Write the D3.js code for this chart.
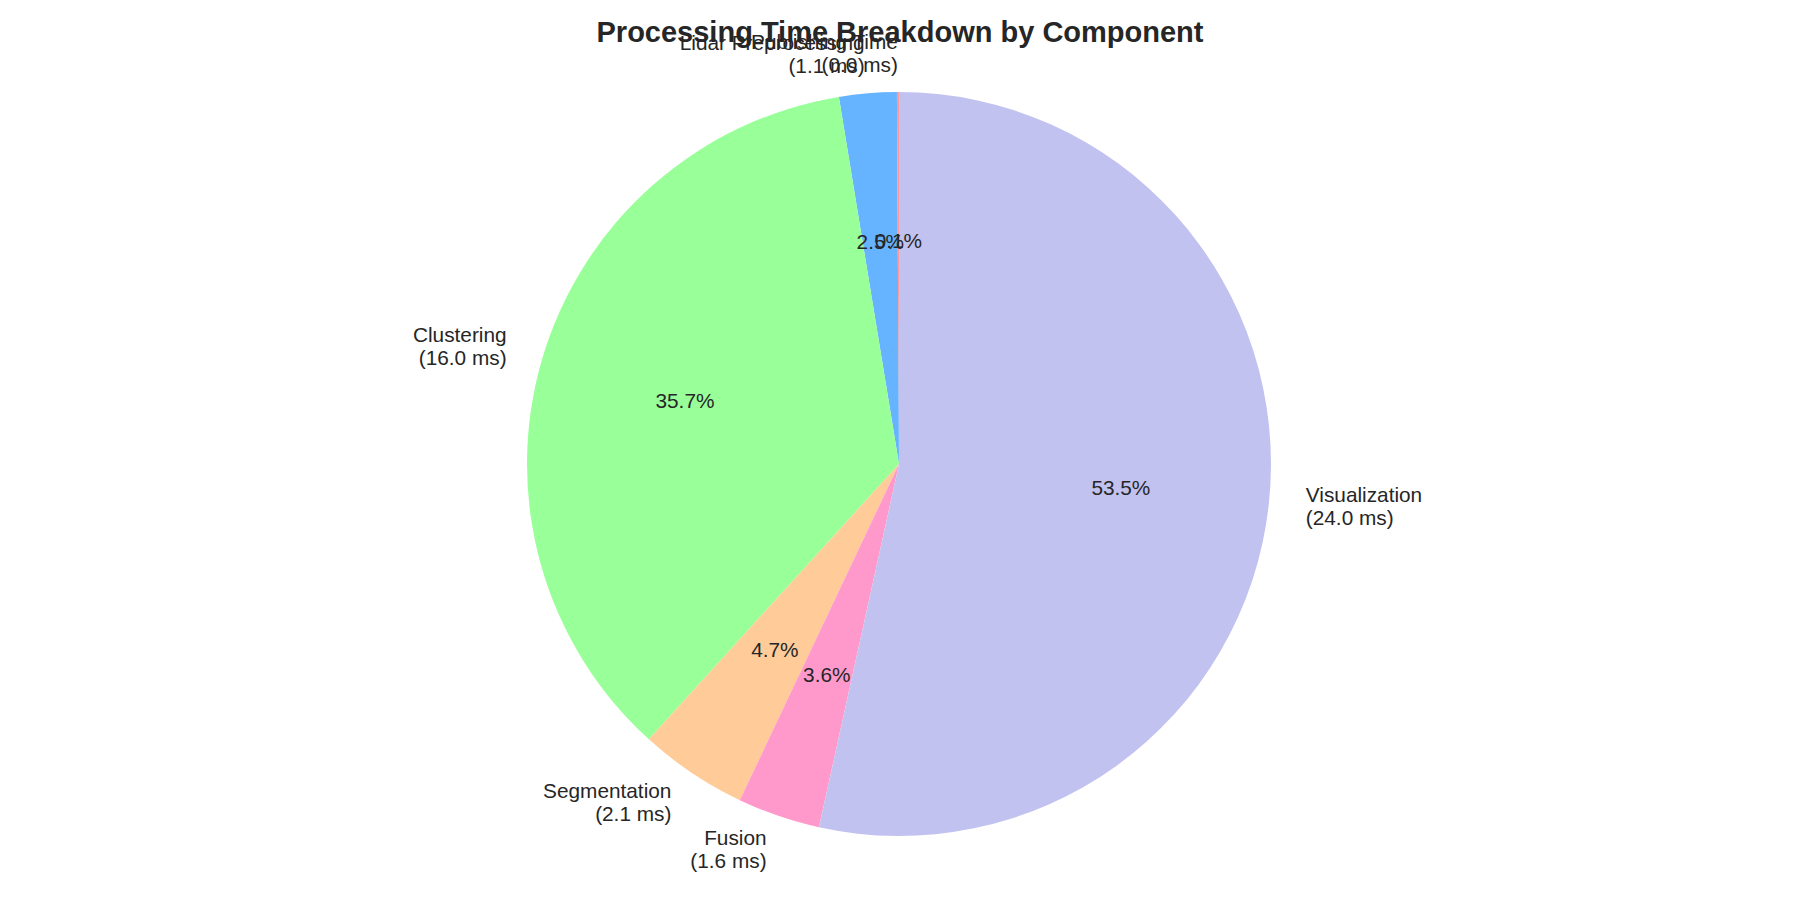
<!DOCTYPE html>
<html>
<head>
<meta charset="utf-8">
<script src="https://cdn.jsdelivr.net/npm/d3@7"></script>
<style>
  body { margin: 0; background: #fff; }
  svg text { font-family: "Liberation Sans", Arial, sans-serif; fill: #262626; }
</style>
</head>
<body>
<svg id="chart"></svg>
<script>
// Components, in the order they are drawn (counterclockwise from 12 o'clock)
var components = ["Publishing Time", "Lidar Preprocessing", "Clustering", "Segmentation", "Fusion", "Visualization"];
// Processing time per component, ms
var times = [0.04, 1.12, 16.02, 2.11, 1.61, 24.0];
var colors = ["#ff9999", "#66b3ff", "#99ff99", "#ffcc99", "#ff99cc", "#c2c2f0"];

var width = 1800,
    height = 900,
    cx = 899,
    cy = 464,
    radius = 372;

var data = components.map(function (c, i) { return { label: c, value: times[i] }; });
var total = d3.sum(times);

var svg = d3.select("#chart")
  .attr("width", width)
  .attr("height", height);

// Title
svg.append("text")
  .attr("x", width / 2)
  .attr("y", 42)
  .style("text-anchor", "middle")
  .style("font-size", "29px")
  .style("font-weight", "bold")
  .text("Processing Time Breakdown by Component");

// counterclockwise pie, like startangle=90 in matplotlib
var pie = d3.pie()
  .value(function (d) { return d.value; })
  .sort(null)
  .startAngle(0)
  .endAngle(-2 * Math.PI);

var arc = d3.arc()
  .innerRadius(0)
  .outerRadius(radius);

var arcs = pie(data);

var g = svg.append("g")
  .attr("transform", "translate(" + cx + "," + cy + ")");

// wedges first, so no wedge covers a label
g.selectAll(".arc")
  .data(arcs)
  .enter().append("path")
  .attr("class", "arc")
  .attr("d", arc)
  .attr("fill", function (d, i) { return colors[i]; });

function mid(d) { return (d.startAngle + d.endAngle) / 2; }

// Percent labels at 0.6 r
g.selectAll(".pct")
  .data(arcs)
  .enter().append("text")
  .attr("class", "pct")
  .attr("x", function (d) { return Math.sin(mid(d)) * radius * 0.6; })
  .attr("y", function (d) { return -Math.cos(mid(d)) * radius * 0.6; })
  .attr("dy", "0.35em")
  .style("text-anchor", "middle")
  .style("font-size", "20.8px")
  .text(function (d) { return (d.value / total * 100).toFixed(1) + "%"; });

// Outer labels at 1.1 r, two lines
var labels = g.selectAll(".label")
  .data(arcs)
  .enter().append("text")
  .attr("class", "label")
  .style("font-size", "20.8px")
  .style("text-anchor", function (d) { return Math.sin(mid(d)) < 0 ? "end" : "start"; })
  .attr("transform", function (d) {
    var x = Math.sin(mid(d)) * radius * 1.1,
        y = -Math.cos(mid(d)) * radius * 1.1;
    return "translate(" + x + "," + y + ")";
  });

labels.append("tspan")
  .attr("x", 0)
  .attr("y", -6)
  .text(function (d) { return d.data.label; });

labels.append("tspan")
  .attr("x", 0)
  .attr("y", 17)
  .text(function (d) { return "(" + d.value.toFixed(1) + " ms)"; });
</script>
</body>
</html>
